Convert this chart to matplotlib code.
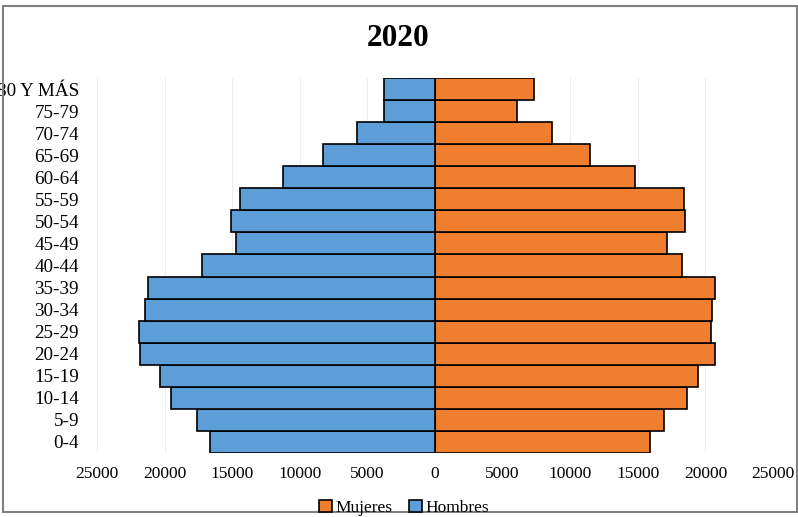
import matplotlib
matplotlib.use("Agg")
import matplotlib.pyplot as plt
from matplotlib.patches import Rectangle

# Age groups, bottom to top
grupos = ["0-4", "5-9", "10-14", "15-19", "20-24", "25-29", "30-34", "35-39",
          "40-44", "45-49", "50-54", "55-59", "60-64", "65-69", "70-74",
          "75-79", "80 Y MÁS"]

hombres = [16640, 17630, 19550, 20340, 21820, 21920, 21450, 21200,
           17210, 14720, 15090, 14420, 11270, 8300, 5790, 3750, 3750]

mujeres = [15900, 16960, 18660, 19480, 20690, 20410, 20490, 20730,
           18250, 17180, 18490, 18420, 14770, 11460, 8650, 6090, 7320]

ticks = [-25000, -20000, -15000, -10000, -5000, 0, 5000, 10000, 15000, 20000, 25000]
tick_labels = ["25000", "20000", "15000", "10000", "5000", "0",
               "5000", "10000", "15000", "20000", "25000"]

plt.rcParams["font.family"] = ["Liberation Serif", "DejaVu Serif"]

fig = plt.figure(figsize=(7.98, 5.17), dpi=100)
ax = fig.add_axes([97 / 798, 1 - 453 / 517, 676 / 798, 375 / 517])

y = list(range(len(grupos)))
neg_hombres = [-v for v in hombres]

bm = ax.barh(y, mujeres, height=1.0, color="#EF7F2F", edgecolor="black",
             linewidth=1.2, label="Mujeres", zorder=3)
bh = ax.barh(y, neg_hombres, height=1.0, color="#5D9DD8", edgecolor="black",
             linewidth=1.2, label="Hombres", zorder=3)

ax.set_xlim(-25000, 25000)
ax.set_ylim(-0.5, len(grupos) - 0.5)
ax.set_xticks(ticks)
ax.set_xticklabels(tick_labels)
ax.set_yticks(y)
ax.set_yticklabels(grupos)
ax.tick_params(axis="both", length=0)
ax.tick_params(axis="x", labelsize=12.5, pad=9)
ax.tick_params(axis="y", labelsize=13.8, pad=13)
ax.grid(axis="x", color="#eeeeee", linewidth=0.8, zorder=0)
for s in ax.spines.values():
    s.set_visible(False)

fig.text(398 / 798, 1 - 39 / 517, "2020", ha="center", va="center",
         fontsize=22.5, fontweight="bold")

fig.legend(handles=[bm, bh], labels=["Mujeres", "Hombres"], ncol=2,
           loc="center", bbox_to_anchor=(404 / 798, 1 - 508 / 517),
           frameon=False, fontsize=12.5, handlelength=0.7, handleheight=0.7,
           handletextpad=0.2, columnspacing=1.0)

# outer chart frame
fig.patches.append(Rectangle((3 / 798, 1 - 512 / 517), 794 / 798, 506 / 517,
                             transform=fig.transFigure, fill=False,
                             edgecolor="#808080", linewidth=1.5))

fig.savefig("out.png", dpi=100)
